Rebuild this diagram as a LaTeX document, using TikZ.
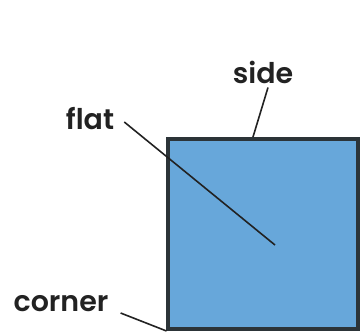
\documentclass[tikz,border=0pt]{standalone}
\usepackage{fontspec}
\setmainfont{Poppins}[BoldFont={Poppins SemiBold}]
\usetikzlibrary{positioning}
\definecolor{shapeblue}{HTML}{67A7DA}
\definecolor{edgegrey}{HTML}{2C3438}
\definecolor{inkdark}{HTML}{222222}
\begin{document}
\begin{tikzpicture}[x=1pt,y=-1pt,
  lbl/.style={font=\fontsize{28.5}{32}\selectfont\bfseries,text=inkdark,inner sep=0pt},
  leader/.style={line width=1.6pt,draw=inkdark}]
  \useasboundingbox (0,0) rectangle (360,333);
  % the shape
  \node[draw=edgegrey,line width=4pt,fill=shapeblue,minimum size=190pt,inner sep=0pt] (sq) at (263.5,234) {};
  % labels
  \node[lbl] (side) at (263,72) {side};
  \node[lbl] (flat) at (90,119) {flat};
  \node[lbl] (corner) at (61,304) {corner};
  \coordinate (mid) at (275,245);
  % leaders
  \draw[leader] ([xshift=5pt,yshift=-4pt]side.south) -- ([xshift=-10.5pt]sq.north);
  \draw[leader] ([xshift=10pt,yshift=-3pt]flat.east) -- (mid);
  \draw[leader] ([xshift=12pt,yshift=-9pt]corner.east) -- (sq.south west);
\end{tikzpicture}
\end{document}
